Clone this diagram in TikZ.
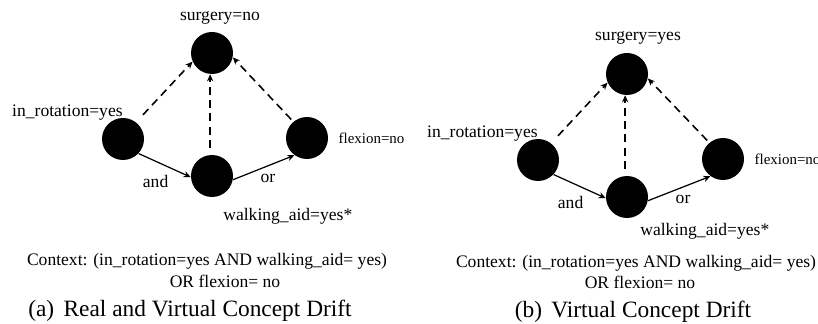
\documentclass[tikz,border=0pt]{standalone}
\usepackage{fontspec}
\setmainfont{Liberation Serif}
\usepackage{tikz}
\usetikzlibrary{arrows.meta,positioning}

\begin{document}
\begin{tikzpicture}[x=0.2mm, y=-0.2mm, node distance=2mm,
  dot/.style={circle, fill=black, inner sep=0pt, minimum size=8.4mm},
  lbl/.style={inner sep=0pt, font=\fontsize{10}{12}\selectfont},
  small lbl/.style={inner sep=0pt, font=\fontsize{8.5}{10}\selectfont},
  depend/.style={draw=black, line width=0.9pt, dash pattern=on 4.5pt off 3pt,
    shorten <=1.4mm, -{Stealth[length=4pt,width=3.5pt]}},
  combine/.style={draw=black, line width=0.7pt, -{Stealth[length=4pt,width=3.5pt]}},
  caption/.style={inner sep=0pt, font=\fontsize{13.3}{16}\selectfont}]
  \useasboundingbox (0,0) rectangle (818,324);

  % (a) real and virtual drift
  \node[dot] (surgA) at (212,53) {};
  \node[dot] (rotA) at (123,139) {};
  \node[dot] (walkA) at (212,176) {};
  \node[dot] (flexA) at (307,138) {};

  \node[lbl, above=1.4mm of surgA, xshift=1.6mm] (surgLblA) {surgery=no};
  \node[lbl, above left=-0.5mm and 0mm of rotA.north] (rotLblA) {in\_rotation=yes};
  \node[small lbl, right=2mm of flexA] (flexLblA) {flexion=no};
  \node[lbl, below right=2.2mm and 2.2mm of walkA.south] (walkLblA) {walking\_aid=yes*};
  \node[lbl, below left=-0.2mm and 4.4mm of walkA.west] (andA) {and};
  \node[lbl, below right=-0.4mm and 5.4mm of walkA.east] (orA) {or};

  \draw[depend, shorten <=2mm] (rotA.52) -- (surgA.204);
  \draw[depend] (walkA.95) -- (surgA.265);
  \draw[depend, shorten <=0.6mm] (flexA.130) -- (surgA.-12);
  \draw[combine] (rotA.-43) -- (walkA.183);
  \draw[combine] (walkA.-10) -- (flexA.234);

  \node[lbl] (ctxA) at (207,261) {Context: (in\_rotation=yes AND walking\_aid= yes)};
  \node[lbl] (ctxA2) at (225,281) {OR flexion= no};
  \node[caption] (capA) at (190,311) {(a)\hskip0.4em Real and Virtual Concept Drift};

  % (b) virtual drift
  \node[dot] (surgB) at (627,74) {};
  \node[dot] (rotB) at (538,160) {};
  \node[dot] (walkB) at (627,197) {};
  \node[dot] (flexB) at (723,159) {};

  \node[lbl, above=1.6mm of surgB, xshift=2.2mm] (surgLblB) {surgery=yes};
  \node[lbl, above left=-0.5mm and 0mm of rotB.north] (rotLblB) {in\_rotation=yes};
  \node[small lbl, right=2mm of flexB] (flexLblB) {flexion=no};
  \node[lbl, below right=1mm and 2.6mm of walkB.south] (walkLblB) {walking\_aid=yes*};
  \node[lbl, below left=-0.2mm and 4.4mm of walkB.west] (andB) {and};
  \node[lbl, below right=-0.4mm and 5.4mm of walkB.east] (orB) {or};

  \draw[depend, shorten <=2mm] (rotB.52) -- (surgB.204);
  \draw[depend] (walkB.95) -- (surgB.265);
  \draw[depend, shorten <=0.6mm] (flexB.130) -- (surgB.-12);
  \draw[combine] (rotB.-43) -- (walkB.183);
  \draw[combine] (walkB.-10) -- (flexB.234);

  \node[lbl] (ctxB) at (636,263) {Context: (in\_rotation=yes AND walking\_aid= yes)};
  \node[lbl] (ctxB2) at (640,282) {OR flexion= no};
  \node[caption] (capB) at (633,312) {(b)\hskip0.4em Virtual Concept Drift};
\end{tikzpicture}
\end{document}
